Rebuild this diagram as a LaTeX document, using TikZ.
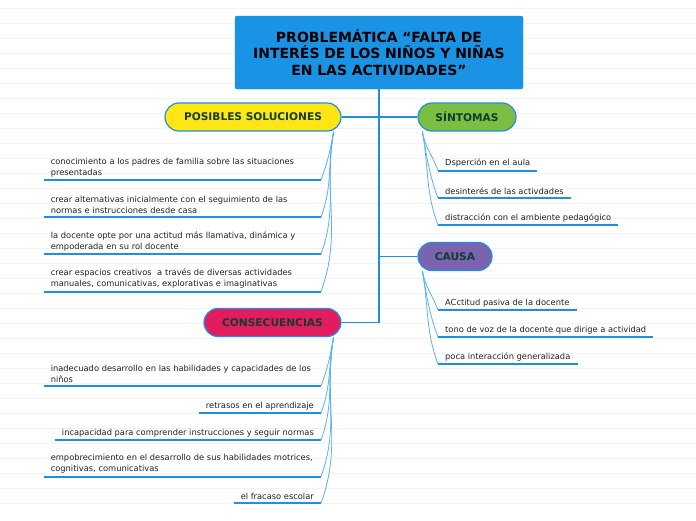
\documentclass[tikz,border=0pt]{standalone}
\usepackage{fontspec}
\setmainfont{DejaVu Sans}
\usetikzlibrary{positioning,calc}
\definecolor{titlefill}{HTML}{1B93E5}
\definecolor{trunk}{HTML}{1E8FE1}
\definecolor{twig}{HTML}{5AB2EE}
\definecolor{ruled}{HTML}{F3F3F3}
\definecolor{pilltext}{HTML}{123D2F}
\definecolor{itemtext}{HTML}{222222}
\definecolor{solfill}{HTML}{FFE614}
\definecolor{sinfill}{HTML}{7BBE42}
\definecolor{caufill}{HTML}{7B63AF}
\definecolor{confill}{HTML}{E31C5F}

\begin{document}
\begin{tikzpicture}[
  x=1pt, y=-1pt,
  topic/.style={draw=trunk, line width=1.2pt, rounded corners=14pt, minimum height=28pt, text=pilltext, font=\fontsize{10.6}{12}\selectfont\bfseries},
  item/.style={inner xsep=7pt, inner ysep=3pt, text=itemtext, font=\fontsize{8.3}{11}\selectfont},
  wide/.style={item, text width=263pt, align=left},
  uline/.style={draw=trunk, line width=1.8pt},
  twig/.style={draw=twig, line width=0.8pt},
  branch/.style={draw=trunk, line width=1.6pt},
]
\useasboundingbox[fill=white] (0,0) rectangle (696,520);
% ruled background
\foreach \y in {8.3,23.3,...,518}
  \draw[ruled, line width=0.5pt] (0,\y) -- (696,\y);

% central problem
\node[draw=trunk, fill=titlefill, rounded corners=2pt, minimum width=288pt, minimum height=73pt,
  text width=280pt, align=center, font=\fontsize{14}{16.5}\selectfont\bfseries] (title) at (379,52.5)
  {PROBLEMÁTICA “FALTA DE\\INTERÉS DE LOS NIÑOS Y NIÑAS\\EN LAS ACTIVIDADES”};

% main topics
\node[topic, fill=solfill, minimum width=176pt] (sol) at (253,117) {POSIBLES SOLUCIONES};
\node[topic, fill=sinfill, minimum width=98pt] (sin) at (467,117) {SÍNTOMAS};
\node[topic, fill=caufill, minimum width=74pt] (cau) at (455,256.5) {CAUSA};
\node[topic, fill=confill, minimum width=137pt] (con) at (272.5,322.5) {CONSECUENCIAS};

% --- posibles soluciones ---
\node[wide, anchor=south east] (s1) at (321,180) {conocimiento a los padres de familia sobre las situaciones\\presentadas};
\node[wide, anchor=south east] (s2) at (321,217.3) {crear alternativas inicialmente con el seguimiento de las\\normas e instrucciones desde casa};
\node[wide, anchor=south east] (s3) at (321,254.3) {la docente opte por una actitud más llamativa, dinámica y\\empoderada en su rol docente};
\node[wide, anchor=south east] (s4) at (321,291.7) {crear espacios creativos\ \ a través de diversas actividades\\manuales, comunicativas, explorativas e imaginativas};

% --- síntomas ---
\node[item, anchor=south west] (t1) at (438,170.7) {Dsperción en el aula};
\node[item, anchor=south west] (t2) at (438,198.3) {desinterés de las activdades};
\node[item, anchor=south west] (t3) at (438,225.3) {distracción con el ambiente pedagógico};

% --- causa ---
\node[item, anchor=south west] (c1) at (438,310) {ACctitud pasiva de la docente};
\node[item, anchor=south west] (c2) at (438,337.3) {tono de voz de la docente que dirige a actividad};
\node[item, anchor=south west] (c3) at (438,364.3) {poca interacción generalizada};

% --- consecuencias ---
\node[wide, anchor=south east] (k1) at (321,386) {inadecuado desarrollo en las habilidades y capacidades de los\\niños};
\node[item, anchor=south east] (k2) at (321,413.3) {retrasos en el aprendizaje};
\node[item, anchor=south east] (k3) at (321,440) {incapacidad para comprender instrucciones y seguir normas};
\node[wide, anchor=south east] (k4) at (321,476.7) {empobrecimiento en el desarrollo de sus habilidades motrices,\\cognitivas, comunicativas};
\node[item, anchor=south east] (k5) at (321,503.3) {el fracaso escolar};

% trunk and branches
\draw[branch] (title.south) |- (con.east);
\draw[branch] (title.south |- sol.east) -- (sol.east);
\draw[branch] (title.south |- sin.west) -- (sin.west);
\draw[branch] (title.south |- cau.west) -- (cau.west);

% underlines and twigs
\foreach \n in {s1,s2,s3,s4} {
  \draw[uline] (\n.south west) -- (\n.south east);
  \draw[twig] ([xshift=-8pt]sol.south east) to[out=-100,in=70] (\n.south east);
}
\foreach \n in {k1,k2,k3,k4,k5} {
  \draw[uline] (\n.south west) -- (\n.south east);
  \draw[twig] ([xshift=-8pt]con.south east) to[out=-100,in=70] (\n.south east);
}
\foreach \n in {t1,t2,t3} {
  \draw[uline] (\n.south west) -- (\n.south east);
  \draw[twig] ([xshift=5pt]sin.south west) to[out=-80,in=110] (\n.south west);
}
\foreach \n in {c1,c2,c3} {
  \draw[uline] (\n.south west) -- (\n.south east);
  \draw[twig] ([xshift=5pt]cau.south west) to[out=-80,in=110] (\n.south west);
}
\end{tikzpicture}
\end{document}
